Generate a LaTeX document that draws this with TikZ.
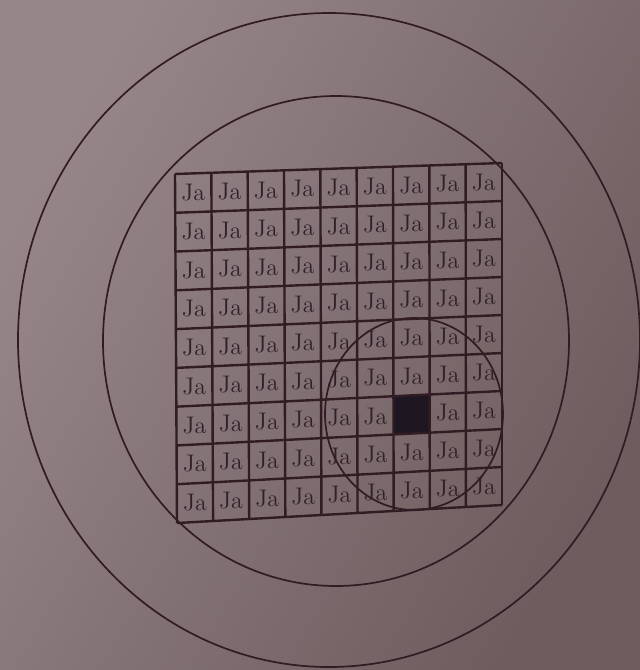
\documentclass[tikz,border=0pt]{standalone}
\usetikzlibrary{calc}
\definecolor{bgA}{RGB}{150,134,138}
\definecolor{bgB}{RGB}{110,92,94}
\definecolor{ink}{RGB}{48,28,34}
\definecolor{txt}{RGB}{48,32,40}
\definecolor{blk}{RGB}{30,22,32}
\tikzset{
  ring/.style={draw=ink, line width=0.85pt},
  gridline/.style={draw=ink, line width=1.2pt},
  ja/.style={text=txt, font=\fontsize{12}{12}\selectfont, inner sep=0pt},
}
\begin{document}
\begin{tikzpicture}[x=0.5pt,y=0.5pt]
\useasboundingbox (0,0) rectangle (640,-670);
\clip (0,0) rectangle (640,-670);
\shade[left color=bgA, right color=bgB, shading angle=60] (0,0) rectangle (640,-670);
% rings
\draw[ring] (329,-340) ellipse [x radius=311, y radius=327];
\draw[ring] (336,-341) ellipse [x radius=233, y radius=245];
% grid corners
\coordinate (TL) at (175,-174);
\coordinate (TR) at (502,-163);
\coordinate (BL) at (177,-523);
\coordinate (BR) at (502,-505);
% black cell
\coordinate (k1) at ($($(TL)!6/9!(TR)$)!6/9!($(BL)!6/9!(BR)$)$);
\coordinate (k2) at ($($(TL)!7/9!(TR)$)!6/9!($(BL)!7/9!(BR)$)$);
\coordinate (k3) at ($($(TL)!7/9!(TR)$)!7/9!($(BL)!7/9!(BR)$)$);
\coordinate (k4) at ($($(TL)!6/9!(TR)$)!7/9!($(BL)!6/9!(BR)$)$);
\fill[blk] (k1) -- (k2) -- (k3) -- (k4) -- cycle;
% grid lines
\foreach \i in {0,...,9} {
  \pgfmathsetmacro\u{\i/9}
  \draw[gridline] ($(TL)!\u!(BL)$) -- ($(TR)!\u!(BR)$);
  \draw[gridline] ($(TL)!\u!(TR)$) -- ($(BL)!\u!(BR)$);
}
% Ja labels
\foreach \r in {0,...,8} {
  \foreach \c in {0,...,8} {
    \pgfmathsetmacro\u{(\c+0.5)/9}
    \pgfmathsetmacro\v{(\r+0.5)/9}
    \pgfmathtruncatemacro\skip{(\r==6)&&(\c==6)}
    \ifnum\skip=0
      \coordinate (t-\r-\c) at ($(TL)!\u!(TR)$);
      \coordinate (b-\r-\c) at ($(BL)!\u!(BR)$);
      \node[ja] (ja-\r-\c) at ($(t-\r-\c)!\v!(b-\r-\c)$) {Ja};
    \fi
  }
}
% small circle
\draw[ring] (414,-414) ellipse [x radius=89, y radius=96];
\end{tikzpicture}
\end{document}
